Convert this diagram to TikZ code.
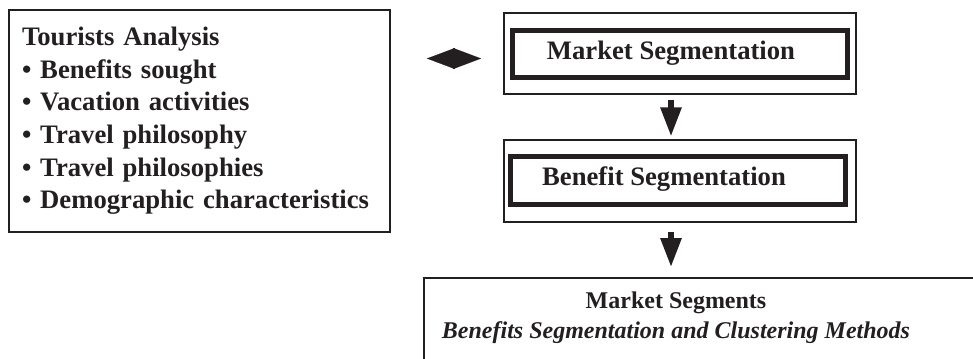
\documentclass[tikz,border=0pt]{standalone}
\usepackage{fontspec}
\setmainfont{Liberation Serif}
\usetikzlibrary{arrows.meta,calc}
\tikzset{>=Stealth}
\definecolor{Ink}{HTML}{231F20}

\begin{document}
\begin{tikzpicture}[x=0.75pt,y=-0.75pt]
  \tikzset{
    infobox/.style={rectangle, draw=Ink, line width=1.4pt,
      minimum width=285.75pt, minimum height=166.5pt,
      inner xsep=9.75pt, text width=266.25pt, align=left,
      font=\fontsize{20}{24.5}\selectfont\bfseries, text=Ink},
    outerbox/.style={rectangle, draw=Ink, line width=1.4pt,
      minimum width=264pt, minimum height=61pt},
    innerbox/.style={rectangle, draw=Ink, line width=3.75pt,
      minimum width=251pt, minimum height=35.5pt},
    segtext/.style={font=\fontsize{20}{24}\selectfont\bfseries, text=Ink},
    resultbox/.style={rectangle, draw=Ink, line width=1.4pt,
      minimum width=424.5pt, minimum height=78pt},
    resulttext/.style={align=center, text=Ink,
      font=\fontsize{18}{22.5}\selectfont\bfseries},
    fatarrow/.style={Ink, line width=4.3pt,
      -{Triangle[width=15pt, length=21.75pt]}},
    dblarrow/.style={Ink, line width=0.1pt,
      {Triangle[width=15.75pt, length=21pt]}-{Triangle[width=15.75pt, length=21pt]}}
  }
  \clip (0,0) rectangle (973,358);

  \node[infobox] (tour) at (199.5,121) {Tourists Analysis\\
    \textbullet\ Benefits sought\\
    \textbullet\ Vacation activities\\
    \textbullet\ Travel philosophy\\
    \textbullet\ Travel philosophies\\
    \textbullet\ Demographic characteristics};

  \node[outerbox] (mseg) at (680,53.5) {};
  \node[innerbox] (msegin) at (680,54) {};
  \node[segtext] (msegtxt) at (671,53) {Market Segmentation};

  \node[outerbox] (bseg) at (680,181) {};
  \node[innerbox] (bsegin) at (678,180.5) {};
  \node[segtext] (bsegtxt) at (664,179) {Benefit Segmentation};

  \node[resultbox] (msegs) at (707,330) {};
  \node[resulttext] (msegstxt) at (676,318) {Market Segments\\
    \textit{Benefits Segmentation and Clustering Methods}};

  \draw[dblarrow, shorten <=27pt, shorten >=16.5pt]
    (tour.east |- 0,58.5) -- (mseg.west |- 0,58.5);
  \foreach \a/\b/\s/\e in {mseg/bseg/3.75pt/2.25pt, bseg/msegs/6.75pt/7.5pt}{
    \draw[fatarrow, shorten <=\s, shorten >=\e]
      ([xshift=-6.75pt]\a.south) -- ([xshift=-6.75pt]\a.south |- \b.north);
  }
\end{tikzpicture}
\end{document}
